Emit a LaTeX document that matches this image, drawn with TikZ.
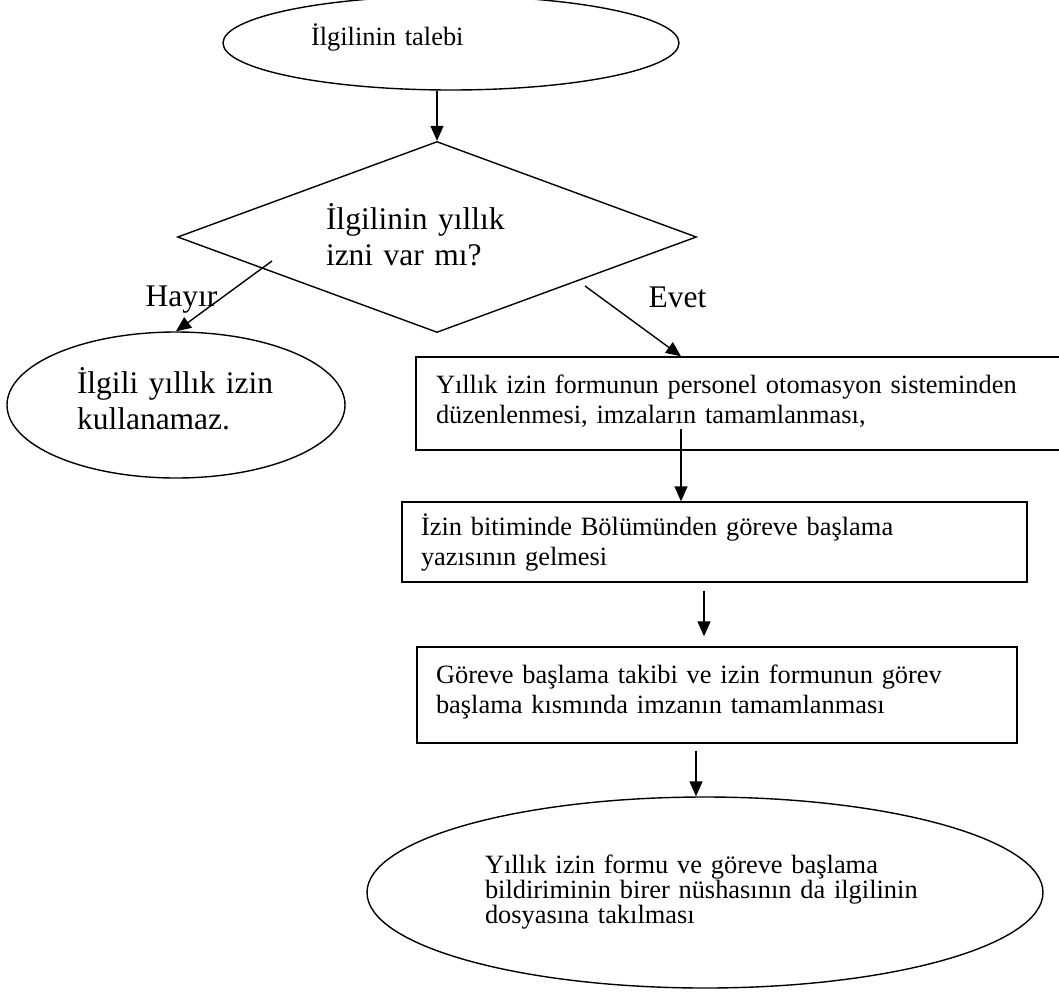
\documentclass[tikz,border=0pt]{standalone}
\usepackage{fontspec}
\setmainfont{Liberation Serif}
\usetikzlibrary{shapes.geometric,arrows.meta}
\tikzset{
    >={Triangle[length=15pt,width=13pt]}, % filled arrow heads for every connector
    }

\begin{document}
\begin{tikzpicture}[x=1pt,y=-1pt,line width=1.4pt,
ovalnode/.style={ellipse, draw=black, align=left, inner sep=2pt},
asknode/.style={diamond, draw=black, aspect=2.7, align=left, inner sep=2pt},
boxnode/.style={rectangle, draw=black, align=left, inner sep=2pt},
smalltext/.style={font=\fontsize{26.4pt}{30pt}\selectfont},
bigtext/.style={font=\fontsize{31.5pt}{36pt}\selectfont},
]
\useasboundingbox (0,0) rectangle (1059,993);

\node[ovalnode, smalltext, minimum width=456pt, minimum height=94pt, text width=280pt, text depth=16pt] (talep) at (451,43) {İlgilinin talebi};
\node[asknode, bigtext, minimum width=519pt, minimum height=191pt, text width=222pt, text depth=42pt] (izin) at (437,237) {İlgilinin yıllık\\izni var mı?};
\node[ovalnode, bigtext, minimum width=338pt, minimum height=146pt, text width=198pt, text depth=49pt] (yok) at (176,405) {İlgili yıllık izin\\kullanamaz.};
\node[boxnode, smalltext, minimum width=649pt, minimum height=93pt, text width=609pt, text depth=39pt] (form) at (740.5,403.5) {Yıllık izin formunun personel otomasyon sisteminden\\düzenlenmesi, imzaların tamamlanması,};
\node[boxnode, smalltext, minimum width=625pt, minimum height=80pt, text width=587pt] (yazi) at (714.5,542) {İzin bitiminde Bölümünden göreve başlama\\yazısının gelmesi};
\node[boxnode, smalltext, minimum width=600pt, minimum height=96pt, text width=562pt, text depth=42pt] (takip) at (717,695) {Göreve başlama takibi ve izin formunun görev\\başlama kısmında imzanın tamamlanması};
\node[ovalnode, font=\fontsize{26.4pt}{25pt}\selectfont, minimum width=676pt, minimum height=191pt, text width=440pt] (dosya) at (705,892.5) {Yıllık izin formu ve göreve başlama\\bildiriminin birer nüshasının da ilgilinin\\dosyasına takılması};

\node[bigtext, anchor=west, inner sep=0pt] (hayir) at (145,300) {Hayır};
\node[bigtext, anchor=west, inner sep=0pt] (evet) at (648,297) {Evet};

\coordinate (hb) at (272,261);
\coordinate (eb) at (585,286);
\coordinate (fb) at (681,429);
\coordinate (tb) at (704,600);
\coordinate (db) at (696,770);

\draw[->] (talep.south -| izin.north) -- (izin.north);
\draw[->] (hb) -- (yok.north);
\draw[->] (eb) -- (fb |- form.north);
\draw[->] (fb) -- (fb |- yazi.north);
\draw[->, shorten <=8pt, shorten >=10pt] (tb |- yazi.south) -- (tb |- takip.north);
\draw[->, shorten <=7pt] (db |- takip.south) -- (db |- dosya.north);
\end{tikzpicture}
\end{document}
